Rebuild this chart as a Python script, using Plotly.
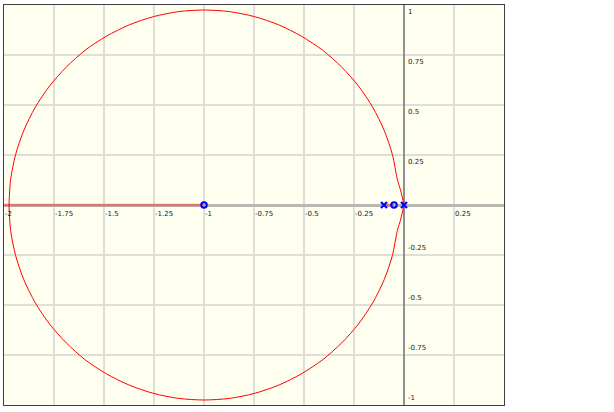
import plotly.graph_objects as go

# Root locus branches (upper half, then lower half)
upper_x = [0.0, -0.016, -0.033, -0.058, -0.099, -0.156, -0.227, -0.311, -0.407, -0.513, -0.627, -0.748, -0.873,
           -1.0, -1.127, -1.252, -1.373, -1.488, -1.594, -1.689, -1.773, -1.844, -1.901, -1.942, -1.967, -1.975]
upper_y = [0.0, 0.07, 0.127, 0.252, 0.373, 0.488, 0.594, 0.689, 0.774, 0.844, 0.901, 0.942, 0.967,
           0.975, 0.967, 0.942, 0.901, 0.844, 0.774, 0.689, 0.594, 0.488, 0.373, 0.252, 0.127, 0.0]
lower_x = [0.0, -0.016, -0.033, -0.058, -0.099, -0.156, -0.227, -0.311, -0.407, -0.513, -0.627, -0.748, -0.873,
           -1.0, -1.127, -1.252, -1.373, -1.488, -1.594, -1.689, -1.773, -1.844, -1.901, -1.942, -1.967, -1.975]
lower_y = [0.0, -0.07, -0.127, -0.252, -0.373, -0.488, -0.594, -0.689, -0.774, -0.844, -0.901, -0.942, -0.967,
           -0.975, -0.967, -0.942, -0.901, -0.844, -0.774, -0.689, -0.594, -0.488, -0.373, -0.252, -0.127, 0.0]

# Real-axis locus segments
real_seg1_x = [-2.0, -1.0]
real_seg2_x = [-0.1, -0.05]

# Poles and zeros
poles_x = [0.0, -0.1]
zeros_x = [-0.05, -1.0]

# Tick labels
x_ticks = [-2, -1.75, -1.5, -1.25, -1, -0.75, -0.5, -0.25, 0.25]
x_tick_text = ["-2", "-1.75", "-1.5", "-1.25", "-1", "-0.75", "-0.5", "-0.25", "0.25"]
y_ticks = [1, 0.75, 0.5, 0.25, -0.25, -0.5, -0.75, -1]
y_tick_text = ["1", "0.75", "0.5", "0.25", "-0.25", "-0.5", "-0.75", "-1"]

fig = go.Figure()

fig.add_trace(go.Scatter(x=real_seg1_x, y=[0, 0], mode="lines",
                         line=dict(color="rgba(255,60,60,0.55)", width=2.5), hoverinfo="skip"))
fig.add_trace(go.Scatter(x=real_seg2_x, y=[0, 0], mode="lines",
                         line=dict(color="rgba(255,60,60,0.55)", width=2.5), hoverinfo="skip"))
fig.add_trace(go.Scatter(x=upper_x, y=upper_y, mode="lines", line_shape="spline",
                         line=dict(color="red", width=1, smoothing=0.8)))
fig.add_trace(go.Scatter(x=lower_x, y=lower_y, mode="lines", line_shape="spline",
                         line=dict(color="red", width=1, smoothing=0.8)))
fig.add_trace(go.Scatter(x=poles_x, y=[0] * len(poles_x), mode="markers",
                         marker=dict(symbol="x-thin", size=6, line=dict(color="#0000ff", width=2.2))))
fig.add_trace(go.Scatter(x=zeros_x, y=[0] * len(zeros_x), mode="markers",
                         marker=dict(symbol="circle-open", size=5.5, color="#0000ff",
                                     line=dict(color="#0000ff", width=2))))

ann = []
for v, t in zip(x_ticks, x_tick_text):
    ann.append(dict(x=v, y=0, xref="x", yref="y", text=t, showarrow=False,
                    xanchor="left", yanchor="top", xshift=-1, yshift=-3,
                    font=dict(family="DejaVu Sans", size=7, color="#222")))
for v, t in zip(y_ticks, y_tick_text):
    ann.append(dict(x=0, y=v, xref="x", yref="y", text=t, showarrow=False,
                    xanchor="left", yanchor="top" if v > 0 else "bottom",
                    xshift=2, yshift=-1 if v > 0 else 1,
                    font=dict(family="DejaVu Sans", size=7, color="#222")))

fig.update_layout(
    width=614, height=412,
    margin=dict(l=4, r=110, t=5, b=7),
    paper_bgcolor="white", plot_bgcolor="#FFFFF0",
    showlegend=False,
    annotations=ann,
    xaxis=dict(range=[-2, 0.5], dtick=0.25, tick0=0, showticklabels=False,
               showgrid=True, gridcolor="#e0ded8", gridwidth=1.5,
               zeroline=True, zerolinecolor="#909090", zerolinewidth=1.5,
               showline=True, linecolor="#404040", linewidth=1, mirror=True, ticks=""),
    yaxis=dict(range=[-1, 1], dtick=0.25, tick0=0, showticklabels=False,
               showgrid=True, gridcolor="#e0ded8", gridwidth=1.5,
               zeroline=True, zerolinecolor="#b8b8b0", zerolinewidth=2.5,
               showline=True, linecolor="#404040", linewidth=1, mirror=True, ticks=""),
)

fig.write_html("out.html", config={"displayModeBar": False},
               post_script="document.body.style.margin='0';")
